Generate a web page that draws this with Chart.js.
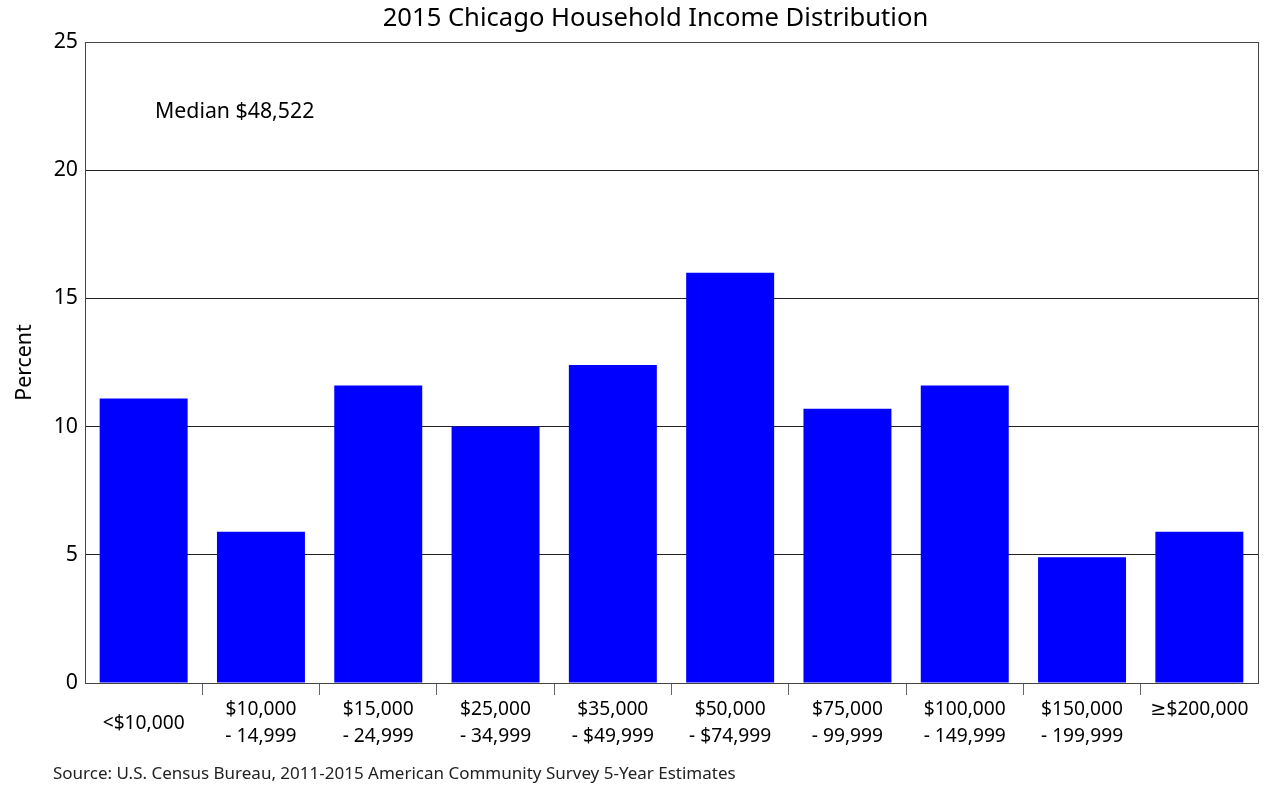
<!DOCTYPE html>
<html>
<head>
<meta charset="utf-8">
<script src="https://cdn.jsdelivr.net/npm/chart.js@4"></script>
<style>
  html, body { margin: 0; padding: 0; background: #fff; }
  #wrap { width: 1280px; height: 800px; }
</style>
</head>
<body>
<div id="wrap"><canvas id="chart" width="1280" height="800"></canvas></div>
<script>
// income brackets, each label split into its printed lines
const incomeLabels = [
    ['<$10,000'],
    ['$10,000', '- 14,999'],
    ['$15,000', '- 24,999'],
    ['$25,000', '- 34,999'],
    ['$35,000', '- $49,999'],
    ['$50,000', '- $74,999'],
    ['$75,000', '- 99,999'],
    ['$100,000', '- 149,999'],
    ['$150,000', '- 199,999'],
    ['≥$200,000', '']
];
// percent of households per bracket
const percentValues = [11.1, 5.9, 11.6, 10.0, 12.4, 16.0, 10.7, 11.6, 4.9, 5.9];
const yTicks = [0, 5, 10, 15, 20, 25];

const chartTitle = '2015 Chicago Household Income Distribution';
const medianNote = 'Median $48,522';
const sourceNote = 'Source: U.S. Census Bureau, 2011-2015 American Community Survey 5-Year Estimates';

const FONT = '"Noto Sans", "DejaVu Sans", sans-serif';
const TEXT_LEFT = 53; // source note and title block share this left edge

// title, frame around plot area, custom x labels, notes
const extrasPlugin = {
    id: 'extras',
    afterDraw(chart) {
        const ctx = chart.ctx;
        const area = chart.chartArea;
        const xScale = chart.scales.x;

        ctx.save();
        ctx.strokeStyle = '#444';
        ctx.lineWidth = 1;
        ctx.strokeRect(Math.round(area.left) + 0.5, Math.round(area.top) + 0.5,
            Math.round(area.right - area.left), Math.round(area.bottom - area.top));

        ctx.fillStyle = '#000';
        ctx.textAlign = 'center';
        ctx.textBaseline = 'middle';
        ctx.font = '25.6px ' + FONT;
        ctx.fillText(chartTitle, (TEXT_LEFT + area.right) / 2, 19);

        // x labels: single-line ones are vertically centred
        ctx.font = '19.2px ' + FONT;
        const lineH = 27;
        const firstLine = area.bottom + 27;
        incomeLabels.forEach((lines, i) => {
            const x = xScale.getPixelForValue(i);
            if (lines.length === 1) {
                ctx.fillText(lines[0], x, firstLine + lineH / 2);
            } else {
                lines.forEach((t, j) => ctx.fillText(t, x, firstLine + j * lineH));
            }
        });

        ctx.textAlign = 'left';
        ctx.font = '21.3px ' + FONT;
        ctx.fillText(medianNote, area.left + 70, area.top + 70);

        ctx.font = '17px ' + FONT;
        ctx.fillStyle = '#222';
        ctx.fillText(sourceNote, TEXT_LEFT, 774);
        ctx.restore();
    }
};

new Chart(document.getElementById('chart'), {
    type: 'bar',
    data: {
        labels: incomeLabels.map(l => l.join(' ')),
        datasets: [{
            data: percentValues,
            backgroundColor: '#0000ff',
            borderWidth: 0,
            barPercentage: 0.75,
            categoryPercentage: 1.0
        }]
    },
    options: {
        responsive: false,
        animation: false,
        layout: { padding: { left: 0, right: 22, top: 42, bottom: 0 } },
        plugins: {
            legend: { display: false },
            tooltip: { enabled: false },
            title: { display: false }
        },
        scales: {
            x: {
                grid: {
                    offset: true,
                    drawOnChartArea: false,
                    drawTicks: true,
                    tickLength: 12,
                    // no tick marks at the two outer edges
                    color: c => (c.tick === undefined || c.index === 0) ? 'rgba(0,0,0,0)' : '#666'
                },
                border: { color: '#444' },
                ticks: { color: 'rgba(0,0,0,0)' },
                afterFit(scale) { scale.height = 117; }
            },
            y: {
                min: 0,
                max: 25,
                afterBuildTicks(scale) { scale.ticks = yTicks.map(v => ({ value: v })); },
                grid: { color: '#222', drawTicks: false },
                border: { color: '#444' },
                ticks: {
                    color: '#000',
                    padding: 7,
                    font: { family: FONT, size: 21.3 }
                },
                title: {
                    display: true,
                    text: 'Percent',
                    color: '#000',
                    font: { family: FONT, size: 21.3 },
                    padding: { top: 12, bottom: 0 }
                },
                afterFit(scale) { scale.width = 85; }
            }
        }
    },
    plugins: [extrasPlugin]
});
</script>
</body>
</html>
